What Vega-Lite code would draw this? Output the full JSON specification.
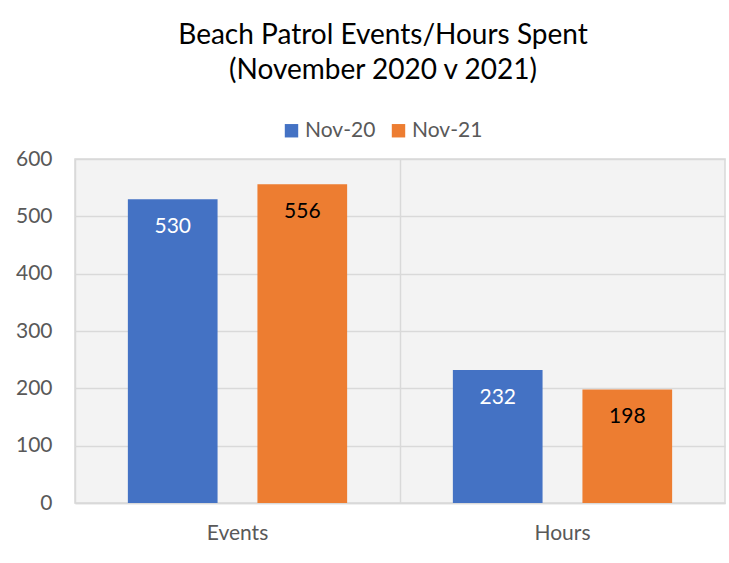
{
  "$schema": "https://vega.github.io/schema/vega-lite/v6.json",
  "width": 650,
  "height": 344,
  "autosize": "none",
  "padding": {"left": 75, "top": 159, "right": 4, "bottom": 60},
  "background": "white",
  "title": {
    "text": ["Beach Patrol Events/Hours Spent", "(November 2020 v 2021)"],
    "font": "Lato",
    "fontSize": 28,
    "fontWeight": "normal",
    "color": "#000000",
    "anchor": "middle",
    "dx": -17,
    "offset": 35,
    "lineHeight": 35
  },
  "data": {
    "values": [
      {"metric": "Events", "year": "Nov-20", "value": 530},
      {"metric": "Events", "year": "Nov-21", "value": 556},
      {"metric": "Hours", "year": "Nov-20", "value": 232},
      {"metric": "Hours", "year": "Nov-21", "value": 198}
    ]
  },
  "encoding": {
    "x": {
      "field": "metric",
      "type": "nominal",
      "sort": ["Events", "Hours"],
      "scale": {"paddingInner": 0, "paddingOuter": 0},
      "axis": {
        "title": null,
        "labelAngle": 0,
        "labelFont": "Lato",
        "labelFontSize": 21,
        "labelColor": "#595959",
        "labelPadding": 19,
        "ticks": false,
        "grid": true,
        "gridColor": "#d9d9d9",
        "gridWidth": 1.5,
        "bandPosition": 0,
        "domainColor": "#d9d9d9",
        "domainWidth": 1.5
      }
    },
    "xOffset": {
      "field": "year",
      "type": "nominal",
      "scale": {"paddingInner": 0.3077, "paddingOuter": 0.408}
    },
    "y": {
      "field": "value",
      "type": "quantitative",
      "scale": {"domain": [0, 600]},
      "axis": {
        "title": null,
        "values": [0, 100, 200, 300, 400, 500, 600],
        "labelFont": "Lato",
        "labelFontSize": 21,
        "labelColor": "#595959",
        "labelPadding": 23,
        "ticks": false,
        "domain": false,
        "grid": true,
        "gridColor": "#d9d9d9",
        "gridWidth": 1.5
      }
    }
  },
  "layer": [
    {
      "mark": {"type": "bar"},
      "encoding": {
        "color": {
          "field": "year",
          "type": "nominal",
          "scale": {"domain": ["Nov-20", "Nov-21"], "range": ["#4472C4", "#ED7D31"]},
          "legend": {
            "title": null,
            "orient": "none",
            "direction": "horizontal",
            "legendX": 206,
            "legendY": -39,
            "symbolType": "square",
            "symbolSize": 180,
            "symbolStrokeWidth": 0,
            "labelFont": "Lato",
            "labelFontSize": 21,
            "labelColor": "#595959",
            "labelOffset": 3,
            "columnPadding": 12
          }
        }
      }
    },
    {
      "mark": {"type": "text", "font": "Lato", "fontSize": 21, "baseline": "middle", "dy": 28},
      "encoding": {
        "text": {"field": "value", "type": "quantitative"},
        "color": {
          "condition": {"test": "datum.year === 'Nov-20'", "value": "#ffffff"},
          "value": "#000000"
        }
      }
    }
  ],
  "config": {
    "view": {"fill": "#f3f3f3", "stroke": "#d9d9d9", "strokeWidth": 1.5}
  }
}
